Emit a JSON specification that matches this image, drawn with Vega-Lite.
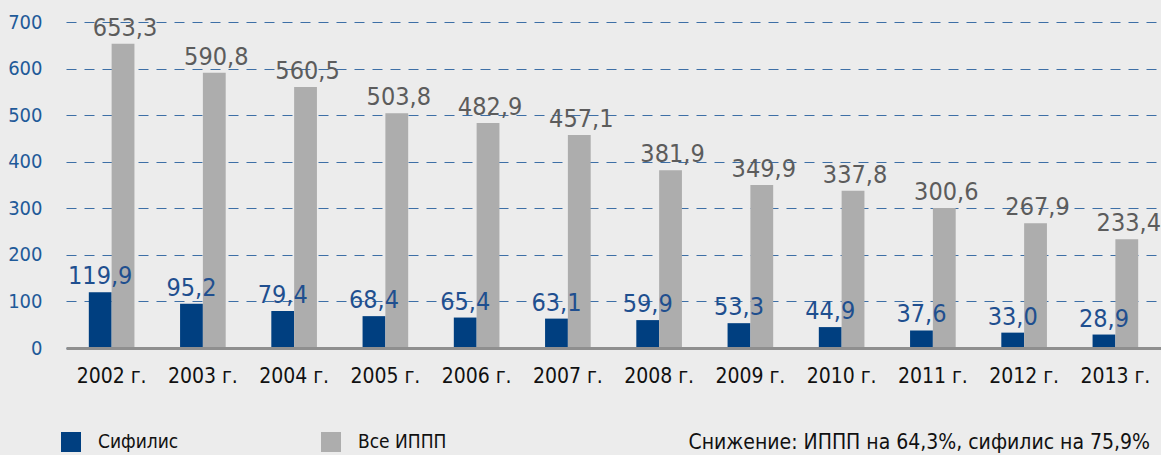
{
  "$schema": "https://vega.github.io/schema/vega-lite/v6.json",
  "autosize": {"type": "none"},
  "padding": {"left": 66, "top": 22, "right": 0, "bottom": 107},
  "width": 1095,
  "height": 326,
  "background": "#ececec",
  "config": {
    "font": "DejaVu Sans Condensed, Roboto",
    "view": {"stroke": null},
    "locale": {"number": {"decimal": ",", "thousands": " ", "grouping": [3], "currency": ["", ""]}}
  },
  "title": {
    "text": "Снижение: ИППП на 64,3%, сифилис на 75,9%",
    "orient": "bottom",
    "anchor": "end",
    "fontSize": 21,
    "fontWeight": "normal",
    "color": "#111111",
    "offset": -20,
    "dx": -11
  },
  "data": {
    "values": [
      {"year": "2002 г.", "series": "Сифилис", "value": 119.9},
      {"year": "2003 г.", "series": "Сифилис", "value": 95.2},
      {"year": "2004 г.", "series": "Сифилис", "value": 79.4},
      {"year": "2005 г.", "series": "Сифилис", "value": 68.4},
      {"year": "2006 г.", "series": "Сифилис", "value": 65.4},
      {"year": "2007 г.", "series": "Сифилис", "value": 63.1},
      {"year": "2008 г.", "series": "Сифилис", "value": 59.9},
      {"year": "2009 г.", "series": "Сифилис", "value": 53.3},
      {"year": "2010 г.", "series": "Сифилис", "value": 44.9},
      {"year": "2011 г.", "series": "Сифилис", "value": 37.6},
      {"year": "2012 г.", "series": "Сифилис", "value": 33.0},
      {"year": "2013 г.", "series": "Сифилис", "value": 28.9},
      {"year": "2002 г.", "series": "Все ИППП", "value": 653.3},
      {"year": "2003 г.", "series": "Все ИППП", "value": 590.8},
      {"year": "2004 г.", "series": "Все ИППП", "value": 560.5},
      {"year": "2005 г.", "series": "Все ИППП", "value": 503.8},
      {"year": "2006 г.", "series": "Все ИППП", "value": 482.9},
      {"year": "2007 г.", "series": "Все ИППП", "value": 457.1},
      {"year": "2008 г.", "series": "Все ИППП", "value": 381.9},
      {"year": "2009 г.", "series": "Все ИППП", "value": 349.9},
      {"year": "2010 г.", "series": "Все ИППП", "value": 337.8},
      {"year": "2011 г.", "series": "Все ИППП", "value": 300.6},
      {"year": "2012 г.", "series": "Все ИППП", "value": 267.9},
      {"year": "2013 г.", "series": "Все ИППП", "value": 233.4}
    ]
  },
  "encoding": {
    "x": {
      "field": "year", "type": "nominal", "sort": null,
      "scale": {"paddingInner": 0.5, "paddingOuter": 0.25},
      "axis": {
        "title": null, "labelAngle": 0, "labelFontSize": 21, "labelColor": "#111111",
        "labelPadding": 17, "ticks": false, "domainColor": "#8f8f8f", "domainWidth": 3,
        "zindex": 2
      }
    },
    "xOffset": {"field": "series", "type": "nominal", "sort": ["Сифилис", "Все ИППП"], "scale": {"paddingInner": 0, "paddingOuter": 0}},
    "y": {
      "field": "value", "type": "quantitative",
      "scale": {"domain": [0, 700], "nice": false},
      "axis": {
        "title": null, "values": [0, 100, 200, 300, 400, 500, 600, 700],
        "labelFontSize": 20, "labelColor": "#1f5a99", "labelPadding": 24,
        "ticks": false, "domain": false,
        "gridColor": "#3d6fa6", "gridDash": [10, 8], "gridWidth": 1
      }
    }
  },
  "layer": [
    {
      "mark": {"type": "bar"},
      "encoding": {
        "color": {
          "field": "series", "type": "nominal",
          "scale": {"domain": ["Сифилис", "Все ИППП"], "range": ["#003f80", "#adadad"]},
          "legend": {
            "title": null, "orient": "none", "legendX": -5, "legendY": 410,
            "direction": "horizontal", "symbolType": "square", "symbolSize": 400,
            "symbolStrokeWidth": 0, "symbolOpacity": 1,
            "labelFontSize": 19, "labelColor": "#111111", "labelOffset": 17,
            "columnPadding": 142
          }
        }
      }
    },
    {
      "transform": [{"filter": "datum.series === 'Сифилис'"}],
      "mark": {"type": "text", "baseline": "alphabetic", "dy": -8, "fontSize": 25, "color": "#1f4f8f"},
      "encoding": {
        "text": {"field": "value", "type": "quantitative", "format": ".1f"}
      }
    },
    {
      "transform": [{"filter": "datum.series === 'Все ИППП'"}],
      "mark": {"type": "text", "baseline": "alphabetic", "dy": -8, "dx": 2, "fontSize": 25, "color": "#5c5c5c"},
      "encoding": {
        "text": {"field": "value", "type": "quantitative", "format": ".1f"}
      }
    }
  ]
}
